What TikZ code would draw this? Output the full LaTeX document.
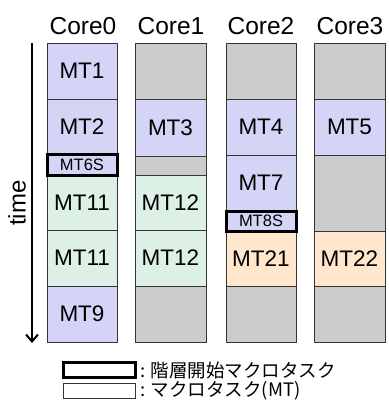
\documentclass[tikz,border=0pt]{standalone}
\usepackage{fontspec}
\setmainfont{Liberation Sans}
\newfontfamily\jpfont{Noto Sans CJK JP}
\usetikzlibrary{arrows.meta}
\definecolor{lav}{HTML}{D4D4F6}
\definecolor{mint}{HTML}{DCF0E6}
\definecolor{peach}{HTML}{FFE6CC}
\definecolor{gry}{HTML}{CCCCCC}
\tikzset{
  blkbase/.style={draw=black!80, line width=0.9pt, inner sep=0pt, outer sep=0pt, font=\fontsize{22.5}{24}\selectfont},
  mtlav/.style={blkbase, fill=lav},
  mtmint/.style={blkbase, fill=mint},
  mtpeach/.style={blkbase, fill=peach},
  idle/.style={blkbase, fill=gry},
  startmt/.style={blkbase, fill=lav, draw=black, line width=3pt, font=\fontsize{16.5}{18}\selectfont},
  corelabel/.style={font=\fontsize{24.5}{26}\selectfont, anchor=base},
  legendtxt/.style={font=\jpfont\fontsize{18.5}{20}\selectfont, anchor=west, inner sep=0pt},
}
\newcommand\blk[7]{\node[#6, minimum width={(#4-#2)*1pt}, minimum height={(#5-#3)*1pt}] (#1) at ({(#2+#4)/2},{(#3+#5)/2}) {#7};}
\begin{document}
\begin{tikzpicture}[x=1pt,y=-1pt]
\useasboundingbox (0,0) rectangle (388,401);
% headers
\node[corelabel] (h0) at (83,35) {Core0};
\node[corelabel] (h1) at (171,35) {Core1};
\node[corelabel] (h2) at (261,35) {Core2};
\node[corelabel] (h3) at (350,35) {Core3};
% Core0
\blk{a1}{47}{43}{117}{99}{mtlav}{MT1}
\blk{a2}{47}{99}{117}{154}{mtlav}{MT2}
\blk{a3}{47}{175}{117}{230}{mtmint}{MT11}
\blk{a4}{47}{230}{117}{286}{mtmint}{MT11}
\blk{a5}{47}{286}{117}{342}{mtlav}{MT9}
\blk{a6}{47}{154}{117}{175}{startmt}{MT6S}
% Core1
\blk{b1}{135}{43}{206}{99}{idle}{}
\blk{b2}{135}{99}{206}{156}{mtlav}{MT3}
\blk{b3}{135}{156}{206}{175}{idle}{}
\blk{b4}{135}{175}{206}{230}{mtmint}{MT12}
\blk{b5}{135}{230}{206}{286}{mtmint}{MT12}
\blk{b6}{135}{286}{206}{342}{idle}{}
% Core2
\blk{c1}{226}{43}{296}{99}{idle}{}
\blk{c2}{226}{99}{296}{155}{mtlav}{MT4}
\blk{c3}{226}{155}{296}{211}{mtlav}{MT7}
\blk{c5}{226}{231}{296}{286}{mtpeach}{MT21}
\blk{c6}{226}{286}{296}{342}{idle}{}
\blk{c4}{226}{211}{296}{231}{startmt}{MT8S}
% Core3
\blk{d1}{314}{43}{385}{99}{idle}{}
\blk{d2}{314}{99}{385}{155}{mtlav}{MT5}
\blk{d3}{314}{155}{385}{231}{idle}{}
\blk{d4}{314}{231}{385}{286}{mtpeach}{MT22}
\blk{d5}{314}{286}{385}{342}{idle}{}
% time axis
\coordinate (ts) at (32,43);
\coordinate (te) at (32,343);
\draw[line width=2pt, -{Straight Barb[length=7pt,width=12pt,line width=2pt]}] (ts) -- (te);
\node[rotate=90, font=\fontsize{24}{26}\selectfont] (time) at (17,203) {time};
% legend
\blk{l1}{63}{362}{135}{377}{startmt,fill=white}{}
\blk{l2}{63}{383}{135}{398}{blkbase,fill=white}{}
\node[legendtxt] (t1) at (140,370) {: 階層開始マクロタスク};
\node[legendtxt] (t2) at (140,391) {: マクロタスク(MT)};
\end{tikzpicture}
\end{document}
